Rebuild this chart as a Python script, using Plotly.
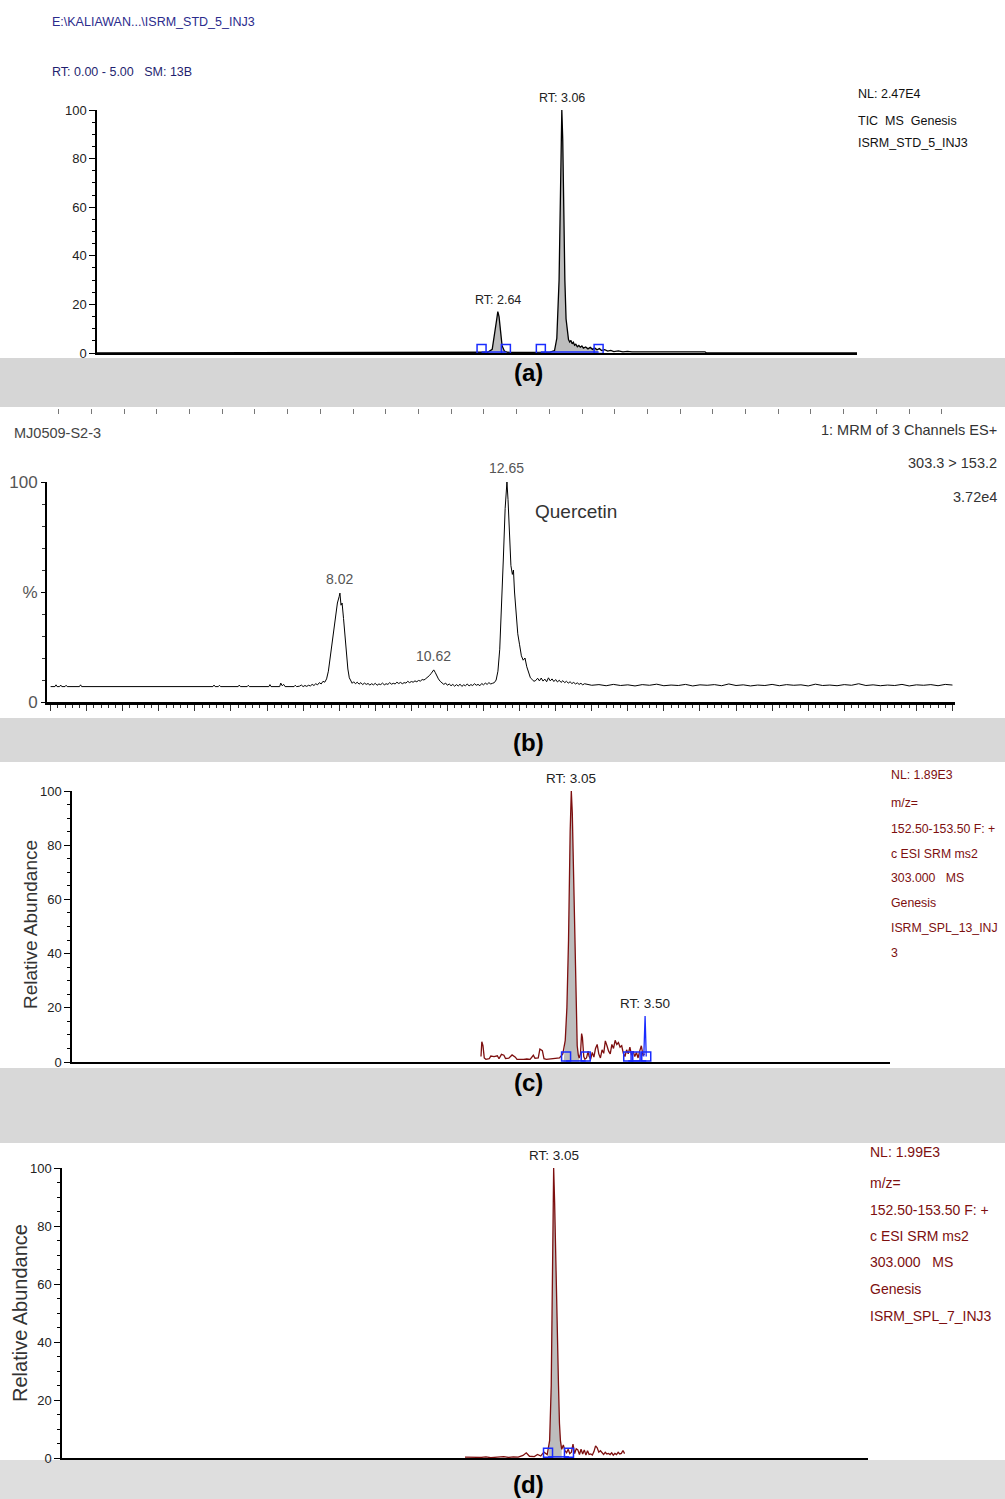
import plotly.graph_objects as go

# ---------------- DATA ----------------
# Panel (a): TIC chromatogram, RT 0-5 min, relative abundance (%)
a_time = [0.00, 2.50, 2.57, 2.60, 2.615, 2.63, 2.637, 2.645, 2.655, 2.665, 2.68, 2.70, 2.80, 2.90, 2.98,
          3.01, 3.025, 3.04, 3.05, 3.058, 3.064, 3.07, 3.078, 3.086, 3.094, 3.102, 3.11, 3.118, 3.126,
          3.134, 3.142, 3.15, 3.16, 3.17, 3.18, 3.19, 3.20, 3.215, 3.23, 3.245, 3.26, 3.275, 3.29, 3.305,
          3.32, 3.34, 3.36, 3.38, 3.40, 3.43, 3.46, 3.49, 3.52, 3.60, 3.80, 4.00, 4.01, 5.00]
a_int = [0, 0, 0.3, 1.5, 7, 14, 17, 15, 9, 3, 0.8, 0.3, 0.2, 0.3, 0.4,
         1.0, 6, 30, 70, 100, 88, 60, 30, 14, 8, 5.5, 4.5, 5.2, 3.8,
         4.4, 3.2, 3.6, 2.6, 3.1, 2.4, 2.9, 2.0, 2.5, 1.7, 2.3, 1.5, 2.0, 1.3, 1.8,
         1.0, 1.4, 0.8, 1.1, 0.6, 0.9, 0.5, 0.7, 0.5, 0.5, 0.5, 0.5, 0, 0]
a_bounds = [[2.53, 2.69], [2.92, 3.30]]
a_labels = ["RT: 2.64", "RT: 3.06"]
a_label_t = [2.637, 3.058]
a_label_h = [17, 100]

# Panel (b): MRM 303.3 > 153.2, RT 0-25 min
b_time_1 = [0.00, 0.12, 0.15, 0.18, 0.25, 0.28, 0.31, 0.40, 0.43, 0.46, 0.80, 0.83, 0.86, 4.50, 4.53,
            4.56, 4.65, 4.68, 4.71, 5.20, 5.23, 5.26, 5.45, 5.48, 5.51, 6.05, 6.08, 6.11, 6.35, 6.38,
            6.42, 6.46, 6.50, 6.75, 6.78, 6.82, 6.90, 6.95, 7.00, 7.05, 7.10, 7.15, 7.20, 7.25, 7.30,
            7.35, 7.40, 7.45, 7.50, 7.55, 7.60, 7.65]
b_int_1 = [7.0, 7.0, 7.8, 7.0, 7.0, 7.7, 7.0, 7.0, 7.6, 7.0, 7.0, 7.8, 7.0, 7.0, 7.7,
           7.0, 7.0, 7.6, 7.0, 7.0, 7.7, 7.0, 7.0, 7.6, 7.0, 7.0, 7.9, 7.0, 7.0, 8.6,
           7.4, 8.0, 7.0, 7.0, 7.6, 7.0, 7.2, 7.7, 7.0, 7.5, 7.1, 7.6, 7.3, 8.0, 7.5,
           8.3, 7.8, 8.8, 8.2, 9.4, 9.0, 10.5]
b_time_2 = [7.70, 7.75, 7.80, 7.85, 7.90, 7.95, 8.00, 8.02, 8.05, 8.08, 8.12, 8.16, 8.20, 8.24, 8.28,
            8.32, 8.36]
b_int_2 = [14, 20, 27, 34, 40, 45, 48, 49.5, 44, 45, 38, 30, 22, 15, 11, 9.5, 8.5]
b_time_3 = [8.40, 8.45, 8.50, 8.55, 8.60, 8.65, 8.70, 8.75, 8.80, 8.85, 8.90, 8.95, 9.00, 9.05, 9.10,
            9.15, 9.20, 9.25, 9.30, 9.35, 9.40, 9.45, 9.50, 9.55, 9.60, 9.65, 9.70, 9.75, 9.80, 9.85,
            9.90, 9.95, 10.00, 10.05, 10.10, 10.15, 10.20, 10.25, 10.30, 10.35]
b_int_3 = [9.2, 8.3, 9.0, 8.1, 8.8, 7.9, 8.6, 8.0, 8.4, 7.7, 8.3, 7.8, 8.5, 7.6, 8.2,
           7.9, 8.6, 7.8, 8.3, 8.0, 8.8, 8.1, 8.5, 8.2, 9.0, 8.4, 8.9, 8.3, 8.8, 8.6,
           9.4, 8.8, 9.3, 9.0, 9.6, 9.2, 9.8, 9.5, 10.2, 10.0]
b_time_4 = [10.40, 10.45, 10.50, 10.55, 10.60, 10.62, 10.66, 10.70, 10.75, 10.80, 10.85]
b_int_4 = [10.6, 11.2, 12.0, 13.0, 14.0, 14.6, 13.5, 12.0, 10.5, 9.4, 8.6]
b_time_5 = [10.90, 10.95, 11.00, 11.05, 11.10, 11.15, 11.20, 11.25, 11.30, 11.35, 11.40, 11.45, 11.50,
            11.55, 11.60, 11.65, 11.70, 11.75, 11.80, 11.85, 11.90, 11.95, 12.00, 12.05, 12.10, 12.15,
            12.20, 12.25, 12.30]
b_int_5 = [8.0, 8.6, 7.6, 8.2, 7.4, 8.0, 7.2, 7.9, 7.3, 8.1, 7.1, 7.8, 7.4,
           8.2, 7.3, 7.9, 7.5, 8.3, 7.6, 8.0, 7.4, 8.4, 7.8, 8.6, 8.0, 8.8,
           8.2, 8.5, 8.8]
b_time_6 = [12.35, 12.40, 12.45, 12.50, 12.55, 12.60, 12.65, 12.68, 12.72, 12.76, 12.80, 12.83, 12.86,
            12.90, 12.95, 13.00, 13.05, 13.10, 13.15, 13.20, 13.25, 13.30, 13.35, 13.40]
b_int_6 = [10, 14, 24, 42, 65, 88, 100, 92, 75, 62, 58, 60, 50, 40, 31, 26, 21, 19, 20, 16, 13, 11, 10.2, 9.4]
b_time_7 = [13.45, 13.50, 13.55, 13.60, 13.65, 13.70, 13.75, 13.80, 13.85, 13.90, 13.95, 14.00, 14.05,
            14.10, 14.15, 14.20, 14.25, 14.30, 14.35, 14.40, 14.45, 14.50, 14.55, 14.60, 14.65, 14.70,
            14.75, 14.80]
b_int_7 = [9.8, 10.8, 9.6, 10.9, 9.5, 10.4, 9.2, 11.0, 9.6, 10.5, 9.3, 10.2, 9.1,
           9.9, 8.9, 9.7, 8.8, 9.4, 8.6, 9.2, 8.4, 8.9, 8.2, 8.7, 8.0, 8.5,
           7.8, 8.3]
b_time_8 = [15.0, 15.2, 15.4, 15.6, 15.8, 16.0, 16.2, 16.4, 16.6, 16.8, 17.0, 17.2, 17.4, 17.6, 17.8,
            18.0, 18.2, 18.4, 18.6, 18.8, 19.0, 19.2, 19.4, 19.6, 19.8, 20.0, 20.2, 20.4, 20.6, 20.8,
            21.0, 21.2, 21.4, 21.6, 21.8, 22.0, 22.2, 22.4, 22.6, 22.8, 23.0, 23.2, 23.4, 23.6, 23.8,
            24.0, 24.2, 24.4, 24.6, 24.8, 25.0]
b_int_8 = [7.6, 7.9, 7.4, 8.0, 7.5, 7.8, 7.3, 7.9, 7.6, 8.1, 7.4, 7.7, 7.5, 8.0, 7.3,
           7.8, 7.6, 7.9, 7.4, 8.2, 7.5, 7.8, 7.3, 7.7, 7.5, 8.0, 7.4, 7.9, 7.6, 7.8,
           7.3, 8.1, 7.5, 7.7, 7.4, 7.9, 7.6, 8.3, 7.5, 7.8, 7.4, 7.7, 7.5, 8.0, 7.3,
           7.8, 7.6, 7.9, 7.4, 8.0, 7.7]
b_labels = ["8.02", "10.62", "12.65"]
b_label_t = [8.02, 10.62, 12.65]
b_label_h = [49.5, 14.6, 100]

# Panel (c): SRM 152.50-153.50, sample 13
c_time = [2.500, 2.505, 2.512, 2.520, 2.530, 2.550, 2.560, 2.580, 2.600, 2.610, 2.625, 2.640, 2.650,
          2.670, 2.690, 2.710, 2.720, 2.740, 2.760, 2.780, 2.800, 2.820, 2.830, 2.850, 2.860, 2.875,
          2.885, 2.900, 2.930, 2.960, 2.980, 3.000, 3.015, 3.025, 3.035, 3.045, 3.052, 3.058, 3.065,
          3.072, 3.080, 3.088, 3.095, 3.100, 3.108, 3.115, 3.120, 3.128, 3.135, 3.145, 3.155, 3.160,
          3.170, 3.180, 3.190, 3.200, 3.210, 3.220, 3.230, 3.240, 3.250, 3.260, 3.270, 3.280, 3.290,
          3.300, 3.310, 3.320, 3.330, 3.340, 3.350, 3.360, 3.370, 3.380, 3.390, 3.400, 3.410, 3.420,
          3.430, 3.440, 3.450, 3.460, 3.470, 3.480, 3.490, 3.500]
c_int = [2.0, 7.5, 6.0, 1.5, 1.0, 1.2, 2.2, 2.0, 2.3, 1.2, 2.8, 2.5, 1.3,
         1.4, 2.6, 1.8, 1.0, 0.9, 1.0, 1.1, 1.0, 2.5, 1.4, 1.5, 4.8, 4.2,
         1.2, 1.0, 1.1, 1.3, 1.5, 3.0, 8.0, 20, 45, 85, 100, 92, 70,
         45, 20, 6.0, 2.5, 1.5, 3.0, 10.5, 9.0, 2.0, 1.0, 1.5, 4.0, 2.2,
         1.0, 3.5, 1.8, 5.0, 6.5, 3.0, 1.5, 4.5, 3.2, 7.8, 6.0, 4.0, 3.0,
         6.5, 5.0, 8.0, 6.5, 7.2, 5.5, 6.0, 3.2, 2.0, 4.5, 3.0, 5.5, 2.5,
         4.0, 2.0, 3.5, 1.5, 4.0, 6.0, 2.5, 3.0]
c_spike_time = [3.495, 3.503, 3.510]
c_spike_int = [2.0, 17.0, 2.0]
c_bounds = [[3.02, 3.14], [3.40, 3.51]]
c_extra_box = [3.445]
c_fill = [3.005, 3.10]
c_labels = ["RT: 3.05", "RT: 3.50"]
c_label_t = [3.052, 3.503]
c_label_h = [100, 17]

# Panel (d): SRM 152.50-153.50, sample 7
d_time = [2.50, 2.52, 2.54, 2.57, 2.60, 2.63, 2.66, 2.70, 2.74, 2.77, 2.80, 2.83, 2.86, 2.88, 2.90,
          2.93, 2.95, 2.97, 2.99, 3.01, 3.025, 3.035, 3.043, 3.050, 3.056, 3.062, 3.068, 3.074, 3.080,
          3.086, 3.092, 3.100, 3.110, 3.120, 3.130, 3.140, 3.150, 3.160, 3.170, 3.180, 3.190, 3.200,
          3.210, 3.220, 3.230, 3.240, 3.250, 3.260, 3.270, 3.280, 3.290, 3.300, 3.310, 3.320, 3.330,
          3.340, 3.350, 3.360, 3.370, 3.380, 3.390, 3.400, 3.410, 3.420, 3.430, 3.440, 3.450, 3.460,
          3.470, 3.480, 3.490]
d_int = [0.3, 0.3, 0.1, 0.3, 0.2, 0.4, 0.1, 0.3, 0.5, 0.2, 0.4, 0.3, 0.9, 1.8, 0.6,
         0.5, 1.2, 0.7, 2.0, 1.2, 6, 25, 60, 100, 88, 70, 58, 40, 25,
         12, 6, 3, 4.5, 2.5, 1.8, 3.0, 1.5, 2.0, 4.8, 1.5, 3.2, 2.8,
         1.2, 3.0, 1.4, 2.8, 1.0, 2.5, 1.2, 1.4, 1.0, 2.2, 4.2, 3.5, 2.0,
         2.5, 1.8, 1.2, 2.0, 1.4, 1.6, 1.2, 1.8, 1.0, 1.6, 1.2, 2.0, 1.4,
         1.6, 2.6, 1.5]
d_bounds = [[3.015, 3.145]]
d_fill = [3.015, 3.10]
d_labels = ["RT: 3.05"]
d_label_t = [3.05]
d_label_h = [100]

b_time = b_time_1 + b_time_2 + b_time_3 + b_time_4 + b_time_5 + b_time_6 + b_time_7 + b_time_8
b_int = b_int_1 + b_int_2 + b_int_3 + b_int_4 + b_int_5 + b_int_6 + b_int_7 + b_int_8
for t_, v_ in [(a_time, a_int), (b_time, b_int), (c_time, c_int), (d_time, d_int)]:
    assert len(t_) == len(v_), (len(t_), len(v_))

# ---------------- LAYOUT HELPERS ----------------
W, H = 1005, 1499


def fx(px):
    return px / W


def fy(py):
    return 1 - py / H


NARROW = "Liberation Sans, Arial, sans-serif"
ARIAL = "Liberation Sans, Arial, sans-serif"
DARKRED = "#7d0f0f"
BLUE = "#1a2cff"
FILL = "#bdbdbd"

fig = go.Figure()


def add_fill(t, v, lo, hi, xa, ya):
    xs, ys = [lo], [0]
    for ti, vi in zip(t, v):
        if lo <= ti <= hi:
            xs.append(ti)
            ys.append(vi)
    xs.append(hi)
    ys.append(0)
    fig.add_trace(go.Scatter(x=xs, y=ys, mode="lines", fill="toself", fillcolor=FILL,
                             line=dict(width=0), xaxis=xa, yaxis=ya, hoverinfo="skip"))


def add_bounds(bounds, extra, level, xa, ya):
    for lo, hi in bounds:
        fig.add_trace(go.Scatter(x=[lo, hi], y=[0.4, 0.4], mode="lines",
                                 line=dict(color=BLUE, width=1.5), xaxis=xa, yaxis=ya, hoverinfo="skip"))
    pts = [p for pair in bounds for p in pair] + list(extra)
    fig.add_trace(go.Scatter(x=pts, y=[level] * len(pts), mode="markers",
                             marker=dict(symbol="square-open", size=9, color=BLUE, line=dict(width=1.5, color=BLUE)),
                             xaxis=xa, yaxis=ya, hoverinfo="skip"))


# Panel a
for lo, hi in a_bounds:
    add_fill(a_time, a_int, lo, hi, "x", "y")
fig.add_trace(go.Scatter(x=a_time, y=a_int, mode="lines", line=dict(color="black", width=1.3),
                         xaxis="x", yaxis="y"))
add_bounds(a_bounds, [], 1.6, "x", "y")

# Panel b
fig.add_trace(go.Scatter(x=b_time, y=b_int, mode="lines", line=dict(color="black", width=1),
                         xaxis="x2", yaxis="y2"))
fig.add_trace(go.Scatter(x=[None], y=[None], xaxis="x5", yaxis="y2", mode="lines"))

# Panel c
add_fill(c_time, c_int, c_fill[0], c_fill[1], "x3", "y3")
fig.add_trace(go.Scatter(x=c_time, y=c_int, mode="lines", line=dict(color=DARKRED, width=1.3),
                         xaxis="x3", yaxis="y3"))
fig.add_trace(go.Scatter(x=c_spike_time, y=c_spike_int, mode="lines", line=dict(color=BLUE, width=1.3),
                         xaxis="x3", yaxis="y3"))
add_bounds(c_bounds, c_extra_box, 2.0, "x3", "y3")

# Panel d
add_fill(d_time, d_int, d_fill[0], d_fill[1], "x4", "y4")
fig.add_trace(go.Scatter(x=d_time, y=d_int, mode="lines", line=dict(color=DARKRED, width=1.3),
                         xaxis="x4", yaxis="y4"))
add_bounds(d_bounds, [], 1.8, "x4", "y4")


def xax(x0, x1, anchor, rng, lw=2, **kw):
    d = dict(domain=[fx(x0), fx(x1)], range=rng, anchor=anchor, showline=True, linecolor="black",
             linewidth=lw, ticks="", showticklabels=False, showgrid=False, zeroline=False,
             fixedrange=True, automargin=False)
    d.update(kw)
    return d


def yax(ybot, ytop, anchor, size=13, color="#222", **kw):
    d = dict(domain=[fy(ybot), fy(ytop)], range=[0, 100], anchor=anchor, showline=True, linecolor="black",
             linewidth=1.5, ticks="outside", ticklen=6, tickwidth=1.2, tickcolor="black",
             tickmode="linear", tick0=0, dtick=20,
             minor=dict(tickmode="linear", tick0=0, dtick=5, ticks="outside", ticklen=3, tickcolor="black",
                        showgrid=False),
             showgrid=False, zeroline=False, fixedrange=True, automargin=False,
             tickfont=dict(family=NARROW, size=size, color=color))
    d.update(kw)
    return d


layout = dict(
    width=W, height=H, margin=dict(l=0, r=0, t=0, b=0, pad=0, autoexpand=False), showlegend=False,
    paper_bgcolor="white", plot_bgcolor="rgba(0,0,0,0)",
    xaxis=xax(97, 857, "y", [0, 5]),
    yaxis=yax(353, 110, "x"),
    xaxis2=xax(47, 955, "y2", [-0.1, 25.07], lw=3, ticks="outside", ticklen=6, tickcolor="#333",
               tickmode="linear", tick0=0, dtick=1,
               minor=dict(tickmode="linear", tick0=0, dtick=0.2, ticks="outside", ticklen=3,
                          tickcolor="#333", showgrid=False)),
    yaxis2=yax(702, 482, "x2", size=17, color="#555", linewidth=2, ticklen=4,
               tickmode="array", tickvals=[0, 50, 100], ticktext=["0", "%", "100"],
               minor=dict(tickmode="linear", tick0=0, dtick=10, ticks="outside", ticklen=3,
                          tickcolor="#333", showgrid=False)),
    xaxis5=dict(domain=[0, 1], range=[-13 / 36.2, (1005 - 13) / 36.2], anchor="free", overlaying="x2",
                position=fy(408), side="bottom", showline=False, ticks="outside", ticklen=5,
                tickcolor="#777", tickmode="linear", tick0=0, dtick=1, showticklabels=False,
                showgrid=False, zeroline=False, fixedrange=True, automargin=False),
    xaxis3=xax(72, 890, "y3", [0, 5]),
    yaxis3=yax(1062, 791, "x3", size=13),
    xaxis4=xax(62, 868, "y4", [0, 5]),
    yaxis4=yax(1458, 1168, "x4", size=13),
)

shapes = []
for top, bot, col in [(358, 407, "#d6d6d6"), (718, 762, "#d8d8d8"), (1068, 1143, "#d8d8d8"),
                      (1460, 1499, "#dedede")]:
    shapes.append(dict(type="rect", xref="paper", yref="paper", x0=0, x1=1, y0=fy(bot), y1=fy(top),
                       fillcolor=col, line=dict(width=0), layer="below"))
layout["shapes"] = shapes

ann = []


def ptext(text, px, py, size, color, anchor="left", family=NARROW, angle=0):
    ann.append(dict(text=text, x=fx(px), y=fy(py), xref="paper", yref="paper", xanchor=anchor,
                    yanchor="middle", showarrow=False, textangle=angle,
                    font=dict(family=family, size=size, color=color)))


def plabels(labels, ts, hs, xref, yref, size, color, shift):
    for lab, t, h in zip(labels, ts, hs):
        ann.append(dict(text=lab, x=t, y=h, xref=xref, yref=yref, xanchor="center", yanchor="bottom",
                        yshift=shift, showarrow=False, font=dict(family=NARROW, size=size, color=color)))


# Panel a texts
ptext(r"E:\KALIAWAN...\ISRM_STD_5_INJ3", 50, 22, 12.5, "#2b2b8c")
ptext("RT: 0.00 - 5.00&nbsp;&nbsp; SM: 13B", 50, 72, 12.5, "#1f1f70")
ptext("NL: 2.47E4", 856, 94, 12.5, "#111")
ptext("TIC&nbsp; MS&nbsp; Genesis", 856, 121, 12.5, "#111")
ptext("ISRM_STD_5_INJ3", 856, 143, 12.5, "#111")
plabels(a_labels, a_label_t, a_label_h, "x", "y", 12.5, "#222", 3)

# Panel b texts
ptext("MJ0509-S2-3", 12, 433, 14.5, "#444")
ptext("1: MRM of 3 Channels ES+", 999, 430, 14.5, "#333", anchor="right")
ptext("303.3 &gt; 153.2", 999, 463, 14.5, "#333", anchor="right")
ptext("3.72e4", 999, 497, 14.5, "#333", anchor="right")
ptext("Quercetin", 576, 511, 19, "#333", anchor="center")
plabels(b_labels, b_label_t, b_label_h, "x2", "y2", 14, "#555", 4)

# Panel c texts
plabels(c_labels, c_label_t, c_label_h, "x3", "y3", 13.5, "#222", 3)
for txt, py in [("NL: 1.89E3", 775), ("m/z=", 803), ("152.50-153.50 F: +", 829), ("c ESI SRM ms2", 854),
                ("303.000&nbsp;&nbsp; MS", 878), ("Genesis", 903), ("ISRM_SPL_13_INJ", 928), ("3", 953)]:
    ptext(txt, 889, py, 12.3, DARKRED)
ptext("Relative Abundance", 30, 925, 19, "#333", anchor="center", family=ARIAL, angle=-90)

# Panel d texts
plabels(d_labels, d_label_t, d_label_h, "x4", "y4", 13.5, "#222", 3)
for txt, py in [("NL: 1.99E3", 1152), ("m/z=", 1183), ("152.50-153.50 F: +", 1210), ("c ESI SRM ms2", 1236),
                ("303.000&nbsp;&nbsp; MS", 1262), ("Genesis", 1289), ("ISRM_SPL_7_INJ3", 1316)]:
    ptext(txt, 868, py, 14, DARKRED)
ptext("Relative Abundance", 20, 1313, 20, "#333", anchor="center", family=ARIAL, angle=-90)

# Panel captions
for lab, py in [("(a)", 372), ("(b)", 742), ("(c)", 1082), ("(d)", 1484)]:
    ptext("<b>" + lab + "</b>", 528, py, 24, "black", anchor="center", family=ARIAL)

layout["annotations"] = ann
fig.update_layout(**layout)
fig.write_html("out.html", config={"displayModeBar": False},
               post_script="document.body.style.margin='0px';")
